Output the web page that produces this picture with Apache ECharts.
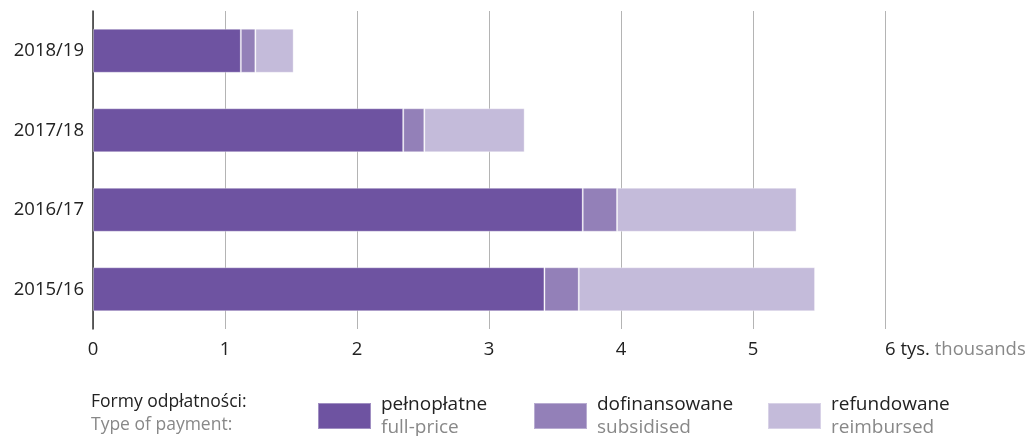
<!DOCTYPE html>
<html>
<head>
<meta charset="utf-8">
<script src="https://cdn.jsdelivr.net/npm/echarts@6/dist/echarts.min.js"></script>
<style>
html,body{margin:0;padding:0;background:#fff;}
#chart{width:1029px;height:436px;}
</style>
</head>
<body>
<div id="chart"></div>
<script>
// Data (thousands)
var categories = ['2015/16', '2016/17', '2017/18', '2018/19'];
var fullPrice   = [3.42, 3.71, 2.35, 1.12];
var subsidised  = [0.26, 0.26, 0.16, 0.11];
var reimbursed  = [1.79, 1.36, 0.76, 0.29];
var seriesNamesPL = ['pełnopłatne', 'dofinansowane', 'refundowane'];
var seriesNamesEN = ['full-price', 'subsidised', 'reimbursed'];
var xTickLabels = ['0', '1', '2', '3', '4', '5', '6 tys.'];
var unitLabel = 'thousands';
var legendTitlePL = 'Formy odpłatności:';
var legendTitleEN = 'Type of payment:';

var colors = ['#6e53a1', '#9380b8', '#c4bbda'];
var FONT = '"Open Sans", sans-serif';

var chart = echarts.init(document.getElementById('chart'), null, {renderer: 'canvas'});

function mkSeries(i, data) {
  return {
    name: seriesNamesPL[i],
    type: 'bar',
    stack: 'total',
    barWidth: 44,
    data: data,
    itemStyle: {color: colors[i], borderColor: 'rgba(255,255,255,0.35)', borderWidth: 1},
    emphasis: {disabled: true}
  };
}

function mkLegend(i, left) {
  return {
    data: [seriesNamesPL[i]],
    left: left,
    top: 395,
    padding: 0,
    itemWidth: 53,
    itemHeight: 26,
    itemGap: 0,
    icon: 'rect',
    selectedMode: false,
    formatter: function (name) {
      var k = seriesNamesPL.indexOf(name);
      return '{a|' + name + '}\n{b|' + seriesNamesEN[k] + '}';
    },
    textStyle: {
      padding: [0, 0, 0, 5],
      rich: {
        a: {fontFamily: FONT, fontSize: 19, color: '#222', lineHeight: 23},
        b: {fontFamily: FONT, fontSize: 19, color: '#888', lineHeight: 23}
      }
    }
  };
}

var option = {
  animation: false,
  backgroundColor: '#fff',
  grid: {left: 93, right: 144, top: 11, bottom: 107, containLabel: false},
  xAxis: {
    type: 'value',
    min: 0,
    max: 6,
    interval: 1,
    axisLine: {show: false},
    axisTick: {show: false},
    splitLine: {show: true, lineStyle: {color: '#b4b4b4', width: 1}},
    axisLabel: {
      margin: 11,
      alignMaxLabel: 'left',
      fontFamily: FONT,
      fontSize: 18.5,
      color: '#222',
      formatter: function (v) {
        var s = xTickLabels[Math.round(v)];
        if (Math.round(v) === 6) return '{a|' + s + '} {b|' + unitLabel + '}';
        return s;
      },
      rich: {
        a: {fontFamily: FONT, fontSize: 18.5, color: '#222'},
        b: {fontFamily: FONT, fontSize: 18.5, color: '#888'}
      }
    }
  },
  yAxis: {
    type: 'category',
    data: categories,
    axisLine: {show: true, lineStyle: {color: '#333', width: 1.5}},
    axisTick: {show: false},
    axisLabel: {margin: 9, fontFamily: FONT, fontSize: 18.5, color: '#222'}
  },
  legend: [mkLegend(0, 317), mkLegend(1, 533), mkLegend(2, 767)],
  graphic: [{
    type: 'text',
    left: 91,
    top: 393,
    style: {
      text: '{a|' + legendTitlePL + '}\n{b|' + legendTitleEN + '}',
      rich: {
        a: {fontFamily: FONT, fontSize: 17.5, fill: '#222', lineHeight: 23},
        b: {fontFamily: FONT, fontSize: 17.5, fill: '#888', lineHeight: 23}
      }
    }
  }],
  series: [
    mkSeries(0, fullPrice),
    mkSeries(1, subsidised),
    mkSeries(2, reimbursed)
  ]
};
chart.setOption(option);
</script>
</body>
</html>
